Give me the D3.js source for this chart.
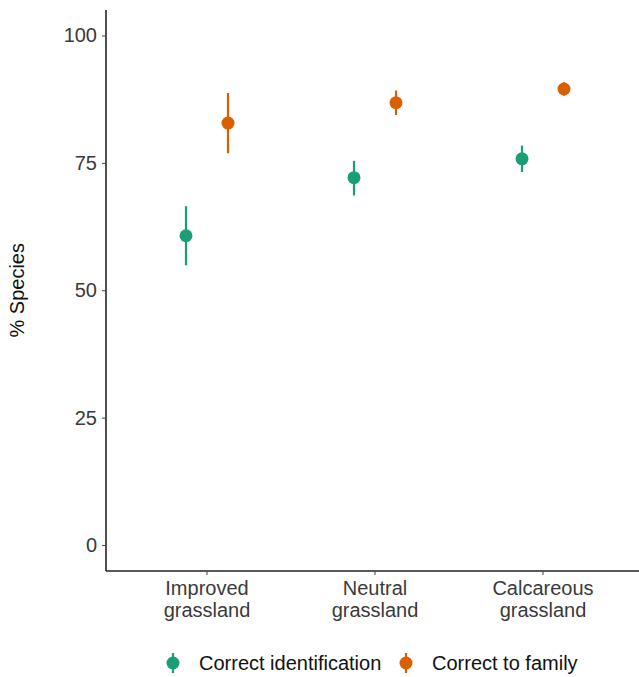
<!DOCTYPE html>
<html>
<head>
<meta charset="utf-8">
<script src="https://cdn.jsdelivr.net/npm/d3@7"></script>
<style>
  body { margin: 0; background: #fff; }
  text { font-family: "Liberation Sans", Arial, sans-serif; }
</style>
</head>
<body>
<div class="canvas"></div>
<script>
// chart data
const habitats = ['Improved grassland', 'Neutral grassland', 'Calcareous grassland'];
const seriesNames = ['Correct identification', 'Correct to family'];
const identMean = [60.7, 72.1, 75.8];
const identLow = [54.9, 68.6, 73.2];
const identHigh = [66.5, 75.4, 78.4];
const familyMean = [82.8, 86.8, 89.5];
const familyLow = [76.9, 84.4, 88.2];
const familyHigh = [88.7, 89.2, 90.8];
const yTicks = [0, 25, 50, 75, 100];
const colours = ['#1b9e77', '#d95f02'];

const rows = [];
habitats.forEach((h, i) => {
  rows.push({habitat: h, series: seriesNames[0], mean: identMean[i], low: identLow[i], high: identHigh[i]});
  rows.push({habitat: h, series: seriesNames[1], mean: familyMean[i], low: familyLow[i], high: familyHigh[i]});
});

const width = 639, height = 677;
const margin = {top: 10, right: 0, bottom: 106, left: 106};
const graphWidth = width - margin.left - margin.right;
const graphHeight = height - margin.top - margin.bottom;
const fontSize = 20;

const svg = d3.select('.canvas')
  .append('svg')
    .attr('width', width)
    .attr('height', height);

const graph = svg.append('g')
  .attr('transform', `translate(${margin.left}, ${margin.top})`);

// ggplot-style expanded y scale
const y = d3.scaleLinear()
  .domain([-5.1, 105])
  .range([graphHeight, 0]);

const x = d3.scaleBand()
  .domain(habitats)
  .range([17, 521])
  .padding(0);

const dodge = d3.scaleBand()
  .domain(seriesNames)
  .range([-42, 42])
  .padding(0);

const colour = d3.scaleOrdinal().domain(seriesNames).range(colours);

// axes
const yAxis = d3.axisLeft(y).tickValues(yTicks).tickSize(4).tickPadding(5);
const yAxisGroup = graph.append('g').call(yAxis);
yAxisGroup.attr('font-size', fontSize).attr('font-family', '"Liberation Sans", Arial, sans-serif');
yAxisGroup.select('.domain').attr('d', `M0,0V${graphHeight}`).attr('stroke', '#222').attr('stroke-width', 1.6);
yAxisGroup.selectAll('.tick line').attr('stroke', '#444');
yAxisGroup.selectAll('.tick text').attr('fill', '#3a3a3a');

const xAxis = d3.axisBottom(x).tickSize(4).tickPadding(6);
const xAxisGroup = graph.append('g')
  .attr('transform', `translate(0, ${graphHeight})`)
  .call(xAxis);
xAxisGroup.attr('font-size', fontSize).attr('font-family', '"Liberation Sans", Arial, sans-serif');
xAxisGroup.select('.domain').attr('d', `M0,0H${graphWidth}`).attr('stroke', '#222').attr('stroke-width', 1.6);
xAxisGroup.selectAll('.tick line').attr('stroke', '#444');
xAxisGroup.selectAll('.tick text')
  .attr('fill', '#3a3a3a')
  .each(function(d) {
    const t = d3.select(this);
    const words = d.split(' ');
    t.text(null);
    words.forEach((w, i) => {
      t.append('tspan').attr('x', 0).attr('dy', i === 0 ? '0.71em' : '1.1em').text(w);
    });
  });

// y title
svg.append('text')
  .attr('transform', `translate(24, ${margin.top + y(50)}) rotate(-90)`)
  .attr('text-anchor', 'middle')
  .attr('font-size', fontSize)
  .attr('fill', '#111')
  .text('% Species');

// error bars and points
const px = d => x(d.habitat) + x.bandwidth() / 2 + dodge(d.series) + dodge.bandwidth() / 2;

graph.selectAll('line.err')
  .data(rows)
  .enter()
  .append('line')
    .attr('class', 'err')
    .attr('x1', px).attr('x2', px)
    .attr('y1', d => y(d.low)).attr('y2', d => y(d.high))
    .attr('stroke', d => colour(d.series))
    .attr('stroke-width', 2.2);

graph.selectAll('circle.pt')
  .data(rows)
  .enter()
  .append('circle')
    .attr('class', 'pt')
    .attr('cx', px)
    .attr('cy', d => y(d.mean))
    .attr('r', 6.5)
    .attr('fill', d => colour(d.series));

// legend
const legendX = [173, 406];
const legend = svg.selectAll('g.legend')
  .data(seriesNames)
  .enter()
  .append('g')
    .attr('class', 'legend')
    .attr('transform', (d, i) => `translate(${legendX[i]}, 663)`);
legend.append('line')
  .attr('y1', -10).attr('y2', 10)
  .attr('stroke', d => colour(d)).attr('stroke-width', 2.2);
legend.append('circle')
  .attr('r', 6.5).attr('fill', d => colour(d));
legend.append('text')
  .attr('x', 26).attr('dy', '0.35em')
  .attr('font-size', fontSize).attr('fill', '#111')
  .text(d => d);
</script>
</body>
</html>
